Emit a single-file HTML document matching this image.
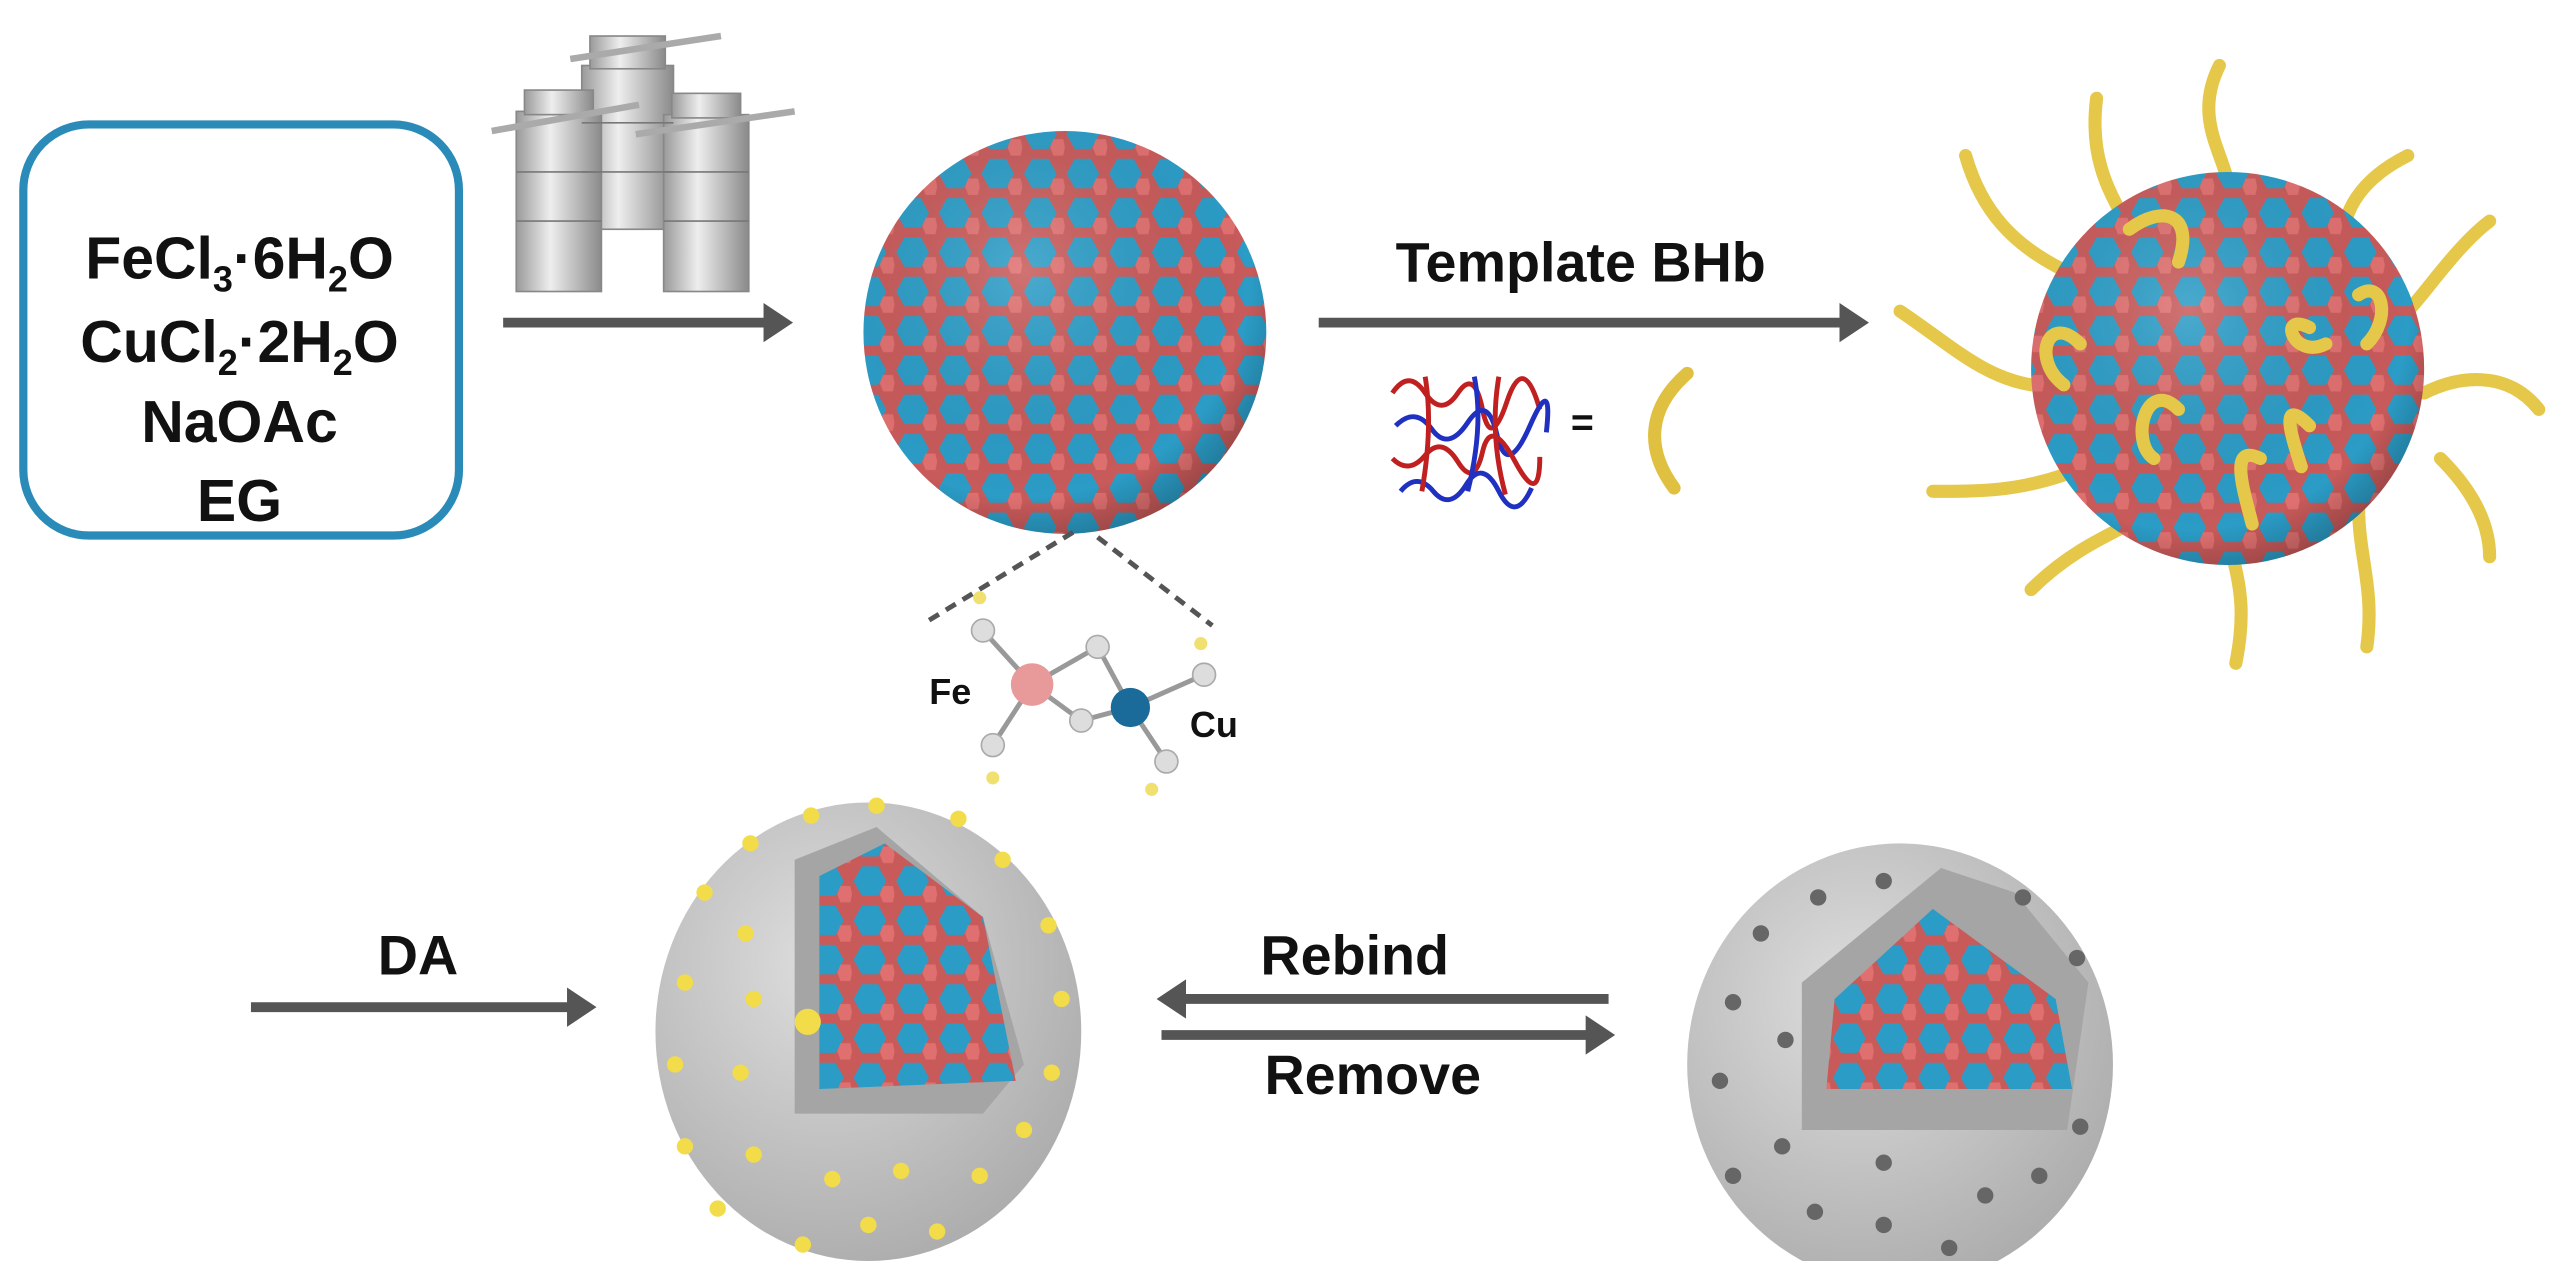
<!DOCTYPE html>
<html><head><meta charset="utf-8"><style>
html,body{margin:0;padding:0;background:#fff;width:2567px;height:1261px;overflow:hidden}
svg{display:block}
text{font-family:"Liberation Sans",sans-serif;font-weight:bold;fill:#111}
</style></head><body>
<svg width="2567" height="1261" viewBox="0 0 1567 770" xmlns="http://www.w3.org/2000/svg">
<defs>
<pattern id="hex" width="26" height="24" patternUnits="userSpaceOnUse">
<rect width="26" height="24" fill="#c85a5a"/>
<polygon points="6,1 16,1 21,10 16,19 6,19 1,10" fill="#2b9cc6"/>
<polygon points="19,13 25,13 26,18 25,23 19,23 17,18" fill="#e07070"/>
</pattern>
<radialGradient id="shade" cx="0.4" cy="0.35" r="0.7">
<stop offset="0" stop-color="#fff" stop-opacity="0.15"/>
<stop offset="0.8" stop-color="#000" stop-opacity="0"/>
<stop offset="1" stop-color="#000" stop-opacity="0.25"/>
</radialGradient>
<radialGradient id="gray" cx="0.4" cy="0.35" r="0.75">
<stop offset="0" stop-color="#dedede"/>
<stop offset="1" stop-color="#a8a8a8"/>
</radialGradient>
<linearGradient id="metal" x1="0" x2="1">
<stop offset="0" stop-color="#9a9a9a"/><stop offset="0.4" stop-color="#eee"/><stop offset="1" stop-color="#8a8a8a"/>
</linearGradient>
<marker id="ah" markerWidth="4" markerHeight="4" refX="2" refY="2" orient="auto" markerUnits="strokeWidth">
<path d="M0,0 L3,2 L0,4 Z" fill="#555"/>
</marker>
</defs>

<rect x="14" y="76" width="266" height="251" rx="40" fill="#fff" stroke="#2a8ab8" stroke-width="5"/>
<text x="146" y="170" font-size="36" text-anchor="middle">FeCl<tspan font-size="22" dy="8">3</tspan><tspan dy="-8">·6H</tspan><tspan font-size="22" dy="8">2</tspan><tspan dy="-8">O</tspan></text>
<text x="146" y="221" font-size="36" text-anchor="middle">CuCl<tspan font-size="22" dy="8">2</tspan><tspan dy="-8">·2H</tspan><tspan font-size="22" dy="8">2</tspan><tspan dy="-8">O</tspan></text>
<text x="146" y="270" font-size="36" text-anchor="middle">NaOAc</text>
<text x="146" y="318" font-size="36" text-anchor="middle">EG</text>

<g fill="url(#metal)" stroke="#888" stroke-width="1">
<rect x="355" y="40" width="56" height="100"/>
<rect x="360" y="22" width="46" height="20"/>
<rect x="315" y="68" width="52" height="110"/>
<rect x="320" y="55" width="42" height="15"/>
<rect x="405" y="70" width="52" height="108"/>
<rect x="410" y="57" width="42" height="15"/>
<g stroke="#777"><line x1="355" y1="75" x2="411" y2="75"/><line x1="355" y1="105" x2="411" y2="105"/><line x1="315" y1="105" x2="367" y2="105"/><line x1="315" y1="135" x2="367" y2="135"/><line x1="405" y1="105" x2="457" y2="105"/><line x1="405" y1="135" x2="457" y2="135"/></g>
<line x1="348" y1="36" x2="440" y2="22" stroke="#aaa" stroke-width="4"/>
<line x1="300" y1="80" x2="390" y2="64" stroke="#aaa" stroke-width="4"/>
<line x1="388" y1="82" x2="485" y2="68" stroke="#aaa" stroke-width="4"/>
</g>

<line x1="307" y1="197" x2="478" y2="197" stroke="#555" stroke-width="6" marker-end="url(#ah)"/>

<circle cx="650" cy="203" r="123" fill="url(#hex)"/>
<circle cx="650" cy="203" r="123" fill="url(#shade)"/>

<text x="965" y="172" font-size="34" text-anchor="middle">Template BHb</text>
<line x1="805" y1="197" x2="1135" y2="197" stroke="#555" stroke-width="6" marker-end="url(#ah)"/>
<g stroke-width="3" fill="none">
<path d="M850,240 q10,-15 20,0 t20,0 t15,10 t15,-5 t20,5" stroke="#c02020"/>
<path d="M852,260 q12,-12 22,2 t22,-4 t18,8 t20,-6 t10,4" stroke="#2030c0"/>
<path d="M850,280 q10,10 20,-2 t20,4 t15,-6 t20,6 t15,-3" stroke="#c02020"/>
<path d="M855,300 q10,-12 20,0 t20,-4 t20,4 t20,-2" stroke="#2030c0"/>
<path d="M870,230 q5,30 -2,70 M915,230 q-6,35 4,72" stroke="#c02020"/>
<path d="M900,230 q6,30 -4,70" stroke="#2030c0"/>
</g>
<text x="966" y="266" font-size="24" text-anchor="middle">=</text>
<path d="M1030,228 C1005,250 1005,275 1022,298" stroke="#e0c040" stroke-width="8" fill="none" stroke-linecap="round"/>

<g stroke="#e5c84a" stroke-width="8" fill="none" stroke-linecap="round">
<path d="M1280,60 C1275,100 1290,120 1300,140"/>
<path d="M1355,40 C1340,70 1355,90 1360,110"/>
<path d="M1470,95 C1440,110 1430,130 1430,150"/>
<path d="M1200,95 C1210,130 1230,150 1260,165"/>
<path d="M1160,190 C1190,210 1210,230 1240,235"/>
<path d="M1550,250 C1530,225 1500,230 1480,240"/>
<path d="M1520,135 C1500,150 1480,180 1470,190"/>
<path d="M1180,300 C1210,300 1230,300 1260,290"/>
<path d="M1240,360 C1260,340 1280,330 1300,320"/>
<path d="M1360,330 C1370,360 1370,380 1365,405"/>
<path d="M1440,310 C1440,340 1450,360 1445,395"/>
<path d="M1490,280 C1510,300 1520,320 1520,340"/>
</g>
<circle cx="1360" cy="225" r="120" fill="url(#hex)"/>
<circle cx="1360" cy="225" r="120" fill="url(#shade)"/>
<g stroke="#e5c84a" stroke-width="8" fill="none" stroke-linecap="round">
<path d="M1300,140 C1320,125 1340,130 1330,160"/>
<path d="M1270,210 C1250,190 1240,220 1260,235"/>
<path d="M1330,250 C1310,230 1300,270 1315,280"/>
<path d="M1410,200 C1390,190 1400,220 1420,210"/>
<path d="M1380,280 C1360,270 1370,300 1375,320"/>
<path d="M1410,260 C1390,240 1400,270 1405,285"/>
<path d="M1440,180 C1455,170 1460,195 1445,210"/>
</g>

<line x1="655" y1="325" x2="565" y2="380" stroke="#555" stroke-width="3" stroke-dasharray="7,5"/>
<line x1="670" y1="328" x2="740" y2="382" stroke="#555" stroke-width="3" stroke-dasharray="7,5"/>
<g stroke="#999" stroke-width="3">
<line x1="630" y1="418" x2="600" y2="385"/><line x1="630" y1="418" x2="606" y2="455"/>
<line x1="630" y1="418" x2="670" y2="395"/><line x1="630" y1="418" x2="660" y2="440"/>
<line x1="690" y1="432" x2="670" y2="395"/><line x1="690" y1="432" x2="660" y2="440"/>
<line x1="690" y1="432" x2="735" y2="412"/><line x1="690" y1="432" x2="712" y2="465"/>
</g>
<circle cx="630" cy="418" r="13" fill="#e89a9a"/>
<circle cx="690" cy="432" r="12" fill="#1a6a9a"/>
<g fill="#ddd" stroke="#aaa"><circle cx="600" cy="385" r="7"/><circle cx="606" cy="455" r="7"/><circle cx="670" cy="395" r="7"/><circle cx="660" cy="440" r="7"/><circle cx="735" cy="412" r="7"/><circle cx="712" cy="465" r="7"/></g>
<g fill="#f0e070"><circle cx="598" cy="365" r="4"/><circle cx="606" cy="475" r="4"/><circle cx="733" cy="393" r="4"/><circle cx="703" cy="482" r="4"/></g>
<text x="580" y="430" font-size="22" text-anchor="middle">Fe</text>
<text x="741" y="450" font-size="22" text-anchor="middle">Cu</text>

<text x="255" y="595" font-size="34" text-anchor="middle">DA</text>
<line x1="153" y1="615" x2="358" y2="615" stroke="#555" stroke-width="6" marker-end="url(#ah)"/>

<!-- sphere 4 -->
<ellipse cx="530" cy="630" rx="130" ry="140" fill="url(#gray)"/>
<path d="M535,505 L485,525 L485,680 L600,680 L625,650 L600,560 Z" fill="#a5a5a5"/>
<clipPath id="c4"><path d="M500,535 L540,515 L600,560 L620,660 L500,665 Z"/></clipPath>
<rect x="490" y="505" width="140" height="165" fill="url(#hex)" clip-path="url(#c4)"/>
<g fill="#f2dc4a">
<circle cx="430" cy="545" r="5"/><circle cx="458" cy="515" r="5"/><circle cx="495" cy="498" r="5"/><circle cx="535" cy="492" r="5"/><circle cx="585" cy="500" r="5"/><circle cx="612" cy="525" r="5"/><circle cx="455" cy="570" r="5"/><circle cx="418" cy="600" r="5"/><circle cx="460" cy="610" r="5"/><circle cx="412" cy="650" r="5"/><circle cx="452" cy="655" r="5"/><circle cx="418" cy="700" r="5"/><circle cx="460" cy="705" r="5"/><circle cx="438" cy="738" r="5"/><circle cx="490" cy="760" r="5"/><circle cx="530" cy="748" r="5"/><circle cx="572" cy="752" r="5"/><circle cx="508" cy="720" r="5"/><circle cx="550" cy="715" r="5"/><circle cx="598" cy="718" r="5"/><circle cx="625" cy="690" r="5"/><circle cx="642" cy="655" r="5"/><circle cx="648" cy="610" r="5"/><circle cx="640" cy="565" r="5"/><circle cx="493" cy="624" r="8"/>
</g>

<text x="827" y="595" font-size="34" text-anchor="middle">Rebind</text>
<line x1="982" y1="610" x2="712" y2="610" stroke="#555" stroke-width="6" marker-end="url(#ah)"/>
<line x1="709" y1="632" x2="980" y2="632" stroke="#555" stroke-width="6" marker-end="url(#ah)"/>
<text x="838" y="668" font-size="34" text-anchor="middle">Remove</text>

<!-- sphere 5 -->
<ellipse cx="1160" cy="650" rx="130" ry="135" fill="url(#gray)"/>
<path d="M1185,530 L1100,600 L1100,690 L1262,690 L1275,600 L1230,545 Z" fill="#a5a5a5"/>
<clipPath id="c5"><path d="M1120,610 L1180,555 L1255,610 L1265,665 L1115,665 Z"/></clipPath>
<rect x="1110" y="550" width="170" height="120" fill="url(#hex)" clip-path="url(#c5)"/>
<g fill="#666">
<circle cx="1075" cy="570" r="5"/><circle cx="1110" cy="548" r="5"/><circle cx="1150" cy="538" r="5"/><circle cx="1058" cy="612" r="5"/><circle cx="1090" cy="635" r="5"/><circle cx="1050" cy="660" r="5"/><circle cx="1088" cy="700" r="5"/><circle cx="1058" cy="718" r="5"/><circle cx="1108" cy="740" r="5"/><circle cx="1150" cy="710" r="5"/><circle cx="1150" cy="748" r="5"/><circle cx="1190" cy="762" r="5"/><circle cx="1212" cy="730" r="5"/><circle cx="1245" cy="718" r="5"/><circle cx="1270" cy="688" r="5"/><circle cx="1235" cy="548" r="5"/><circle cx="1268" cy="585" r="5"/><circle cx="1130" cy="778" r="5"/>
</g>
</svg>
</body></html>
